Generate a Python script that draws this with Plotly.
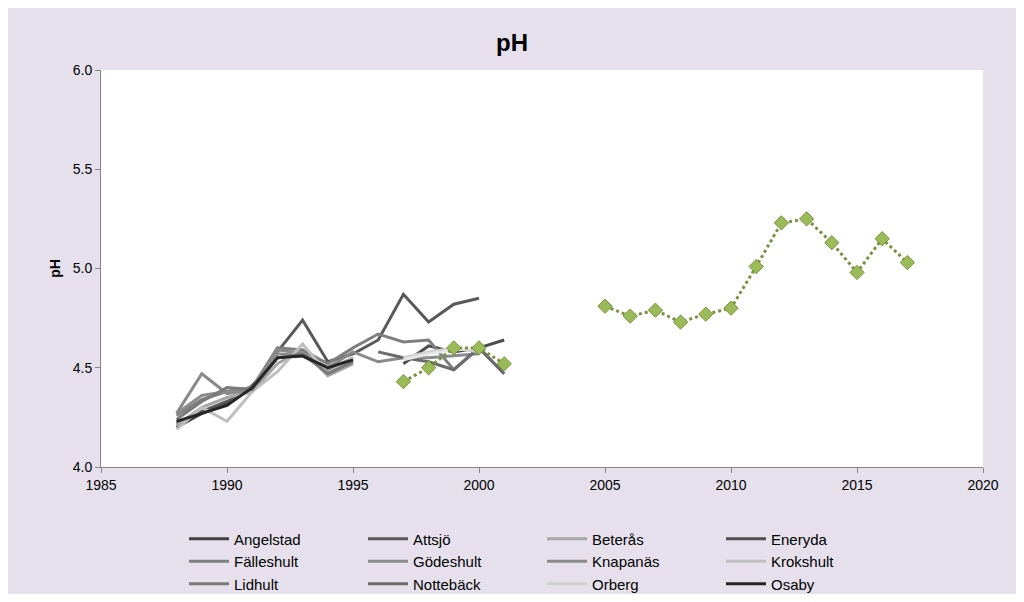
import plotly.graph_objects as go

y88 = list(range(1988, 1996))
y88_00 = list(range(1988, 2001))
y88_01 = list(range(1988, 2002))
y97_01 = list(range(1997, 2002))
tagel_years = [1997, 1998, 1999, 2000, 2001, 2003, 2005, 2006, 2007, 2008, 2009, 2010, 2011, 2012, 2013, 2014, 2015, 2016, 2017]
tagel_ph = [4.43, 4.50, 4.60, 4.60, 4.52, None, 4.81, 4.76, 4.79, 4.73, 4.77, 4.80, 5.01, 5.23, 5.25, 5.13, 4.98, 5.15, 5.03]

series = [
    ("Angelstad", "#404040", y88, [4.20, 4.27, 4.32, 4.41, 4.55, 4.56, 4.50, 4.54]),
    ("Attsjö", "#595959", y88_00, [4.22, 4.28, 4.33, 4.40, 4.58, 4.74, 4.53, 4.57, 4.64, 4.87, 4.73, 4.82, 4.85]),
    ("Beterås", "#a6a6a6", y88, [4.21, 4.30, 4.35, 4.38, 4.52, 4.59, 4.46, 4.52]),
    ("Eneryda", "#4d4d4d", y97_01, [4.52, 4.61, 4.58, 4.60, 4.64]),
    ("Fälleshult", "#7f7f7f", y88_01, [4.26, 4.34, 4.38, 4.40, 4.60, 4.59, 4.52, 4.60, 4.67, 4.63, 4.64, 4.49, 4.60, 4.47]),
    ("Gödeshult", "#8c8c8c", y88, [4.27, 4.36, 4.38, 4.40, 4.57, 4.56, 4.49, 4.55]),
    ("Knapanäs", "#8a8a8a", y88_00, [4.27, 4.47, 4.37, 4.39, 4.59, 4.57, 4.50, 4.58, 4.53, 4.55, 4.55, 4.56, 4.57]),
    ("Krokshult", "#bfbfbf", y88, [4.19, 4.30, 4.23, 4.38, 4.48, 4.62, 4.47, 4.55]),
    ("Lidhult", "#7a7a7a", y88, [4.24, 4.33, 4.40, 4.39, 4.55, 4.57, 4.47, 4.53]),
    ("Nottebäck", "#6b6b6b", [1996, 1997, 1998, 1999, 2000, 2001], [4.58, 4.55, 4.53, 4.49, 4.60, 4.47]),
    ("Orberg", "#cfcfcf", [1997, 1998, 1999, 2000], [4.55, 4.58, 4.60, 4.58]),
    ("Osaby", "#262626", y88, [4.23, 4.27, 4.31, 4.40, 4.55, 4.56, 4.50, 4.54]),
    ("Singeshult", "#e6e6e6", [1997, 1998, 1999, 2000], [4.54, 4.57, 4.59, 4.60]),
]

fig = go.Figure()
for name, col, xs, ys in series:
    fig.add_trace(go.Scatter(x=xs, y=ys, name=name, mode="lines",
                             line=dict(color=col, width=3)))
fig.add_trace(go.Scatter(x=tagel_years, y=tagel_ph, name="Tagel", mode="lines+markers",
                         connectgaps=False,
                         line=dict(color="#77933c", width=3, dash="dot"),
                         marker=dict(symbol="diamond", size=11, color="#9bbb59",
                                     line=dict(color="#77933c", width=1))))

fig.update_layout(
    width=1008, height=586,
    paper_bgcolor="#e6e0ec", plot_bgcolor="white",
    font=dict(family="Liberation Sans, Arial", size=14, color="black"),
    title=dict(text="<b>pH</b>", x=0.5, xanchor="center", y=0.955, font=dict(size=24)),
    margin=dict(l=93, r=33, t=62, b=127, autoexpand=False),
    xaxis=dict(range=[1985, 2020], dtick=5, showgrid=False, zeroline=False,
               showline=True, linecolor="#868686", ticks="outside", ticklen=5,
               tickcolor="#868686"),
    yaxis=dict(range=[4.0, 6.0], dtick=0.5, tickformat=".1f", showgrid=False, zeroline=False,
               showline=True, linecolor="#868686", ticks="outside", ticklen=5,
               tickcolor="#868686",
               title=dict(text="<b>pH</b>", font=dict(size=14), standoff=8)),
    legend=dict(orientation="h", x=0.5, xanchor="center", y=-0.14, yanchor="top",
                entrywidth=124, font=dict(size=15), bgcolor="rgba(0,0,0,0)",
                traceorder="normal", itemwidth=40),
    showlegend=True,
)
fig.write_html("out.html")
